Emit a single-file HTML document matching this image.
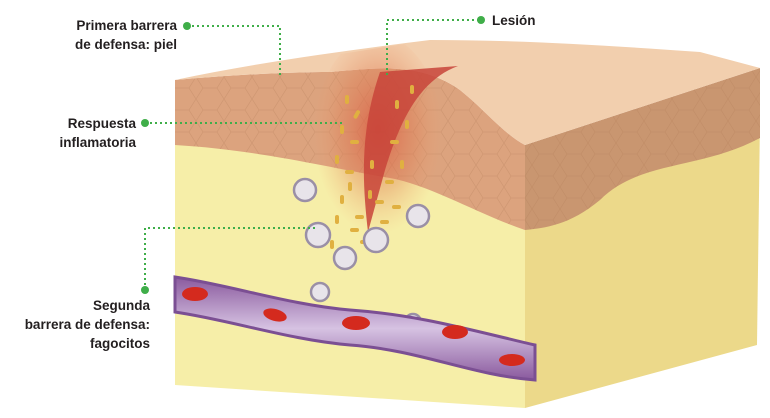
<!DOCTYPE html>
<html><head><meta charset="utf-8"><style>
html,body{margin:0;padding:0;background:#fff;}
svg{display:block}
.t{font-family:"Liberation Sans",sans-serif;font-weight:bold;font-size:13.5px;fill:#231f20;}
</style></head><body>
<svg width="770" height="418" viewBox="0 0 770 418" xmlns="http://www.w3.org/2000/svg">
<defs>
<radialGradient id="inf" cx="0.5" cy="0.45" r="0.5">
<stop offset="0" stop-color="#d9503a" stop-opacity="0.75"/>
<stop offset="0.6" stop-color="#e07a50" stop-opacity="0.35"/>
<stop offset="1" stop-color="#f0a070" stop-opacity="0"/>
</radialGradient>
<linearGradient id="ves" x1="0" y1="0" x2="0" y2="1">
<stop offset="0" stop-color="#8a5a9e"/><stop offset="0.5" stop-color="#d6c2e2"/><stop offset="1" stop-color="#8a5a9e"/>
</linearGradient>
<pattern id="cells" width="28" height="22" patternUnits="userSpaceOnUse">
<path d="M0,11 L7,0 L21,0 L28,11 L21,22 L7,22 Z" fill="none" stroke="#b07a58" stroke-width="0.7" opacity="0.3"/>
</pattern>
<clipPath id="blk"><path d="M175,80 L430,40 L760,68 L760,138 L757,345 L525,408 L175,385 Z"/></clipPath>
</defs>
<!-- right face fat -->
<polygon points="525,200 760,120 757,345 525,408" fill="#ecd98a"/>
<!-- right face skin -->
<path d="M525,145 L760,68 L760,138 C700,170 640,160 600,200 C570,225 545,228 525,230 Z" fill="#c99670"/>
<path d="M525,145 L760,68 L760,138 C700,170 640,160 600,200 C570,225 545,228 525,230 Z" fill="url(#cells)"/>
<!-- front fat -->
<polygon points="175,110 525,180 525,408 175,385" fill="#f6eea8"/>
<!-- front skin -->
<path d="M175,80 C230,75 290,72 330,72 C380,68 420,62 460,90 C485,110 505,135 525,145 L525,230 C480,215 430,185 390,178 C330,168 260,150 175,145 Z" fill="#dca37e"/>
<path d="M175,80 C230,75 290,72 330,72 C380,68 420,62 460,90 C485,110 505,135 525,145 L525,230 C480,215 430,185 390,178 C330,168 260,150 175,145 Z" fill="url(#cells)"/>
<!-- top face -->
<path d="M175,80 C230,75 290,72 330,72 C380,68 420,62 460,90 C485,110 505,135 525,145 L760,68 L700,52 C600,45 520,40 430,40 C350,50 260,62 175,80 Z" fill="#f2cfae"/>
<!-- inflammation -->
<g clip-path="url(#blk)">
<ellipse cx="378" cy="140" rx="65" ry="105" fill="url(#inf)"/>
</g>
<path d="M380,72 L458,66 C420,80 400,120 385,170 L368,232 C362,180 360,130 380,72 Z" fill="#c8443a" opacity="0.85"/>
<!-- bacteria -->
<g fill="#e0b040">
<rect x="345" y="95" width="4" height="9" rx="2"/><rect x="355" y="110" width="4" height="9" rx="2" transform="rotate(30 357 114)"/>
<rect x="340" y="125" width="4" height="9" rx="2"/><rect x="350" y="140" width="9" height="4" rx="2"/>
<rect x="335" y="155" width="4" height="9" rx="2"/><rect x="345" y="170" width="9" height="4" rx="2"/>
<rect x="395" y="100" width="4" height="9" rx="2"/><rect x="405" y="120" width="4" height="9" rx="2"/>
<rect x="390" y="140" width="9" height="4" rx="2"/><rect x="400" y="160" width="4" height="9" rx="2"/>
<rect x="385" y="180" width="9" height="4" rx="2"/><rect x="375" y="200" width="9" height="4" rx="2"/>
<rect x="340" y="195" width="4" height="9" rx="2"/><rect x="355" y="215" width="9" height="4" rx="2"/>
<rect x="380" y="220" width="9" height="4" rx="2"/><rect x="330" y="240" width="4" height="9" rx="2"/>
<rect x="360" y="240" width="9" height="4" rx="2"/><rect x="410" y="85" width="4" height="9" rx="2"/>
<rect x="348" y="182" width="4" height="9" rx="2"/><rect x="368" y="190" width="4" height="9" rx="2"/>
<rect x="392" y="205" width="9" height="4" rx="2"/><rect x="335" y="215" width="4" height="9" rx="2"/>
<rect x="370" y="160" width="4" height="9" rx="2"/><rect x="350" y="228" width="9" height="4" rx="2"/>
</g>
<!-- phagocytes -->
<g fill="#e8e4ea" stroke="#9a8fa6" stroke-width="2.5">
<circle cx="305" cy="190" r="11"/><circle cx="318" cy="235" r="12"/><circle cx="345" cy="258" r="11"/>
<circle cx="376" cy="240" r="12"/><circle cx="418" cy="216" r="11"/>
<circle cx="240" cy="300" r="9"/><circle cx="320" cy="292" r="9"/><circle cx="413" cy="322" r="8"/>
</g>
<!-- vessel -->
<path d="M175,277 C230,285 290,305 350,310 C420,315 470,330 535,345 L535,380 C470,375 420,350 350,345 C290,340 230,320 175,312 Z" fill="url(#ves)" stroke="#7b4f93" stroke-width="3"/>
<g fill="#d42a1e">
<ellipse cx="195" cy="294" rx="13" ry="7"/><ellipse cx="275" cy="315" rx="12" ry="6" transform="rotate(15 275 315)"/>
<ellipse cx="356" cy="323" rx="14" ry="7"/><ellipse cx="455" cy="332" rx="13" ry="7"/>
<ellipse cx="512" cy="360" rx="13" ry="6"/>
</g>
<!-- labels -->
<g fill="none" stroke="#3fae49" stroke-width="2" stroke-dasharray="2,3">
<polyline points="187,26 280,26 280,78"/>
<polyline points="387,75 387,20 480,20"/>
<polyline points="145,123 345,123"/>
<polyline points="145,290 145,228 315,228"/>
</g>
<g fill="#3fae49">
<circle cx="187" cy="26" r="4"/><circle cx="481" cy="20" r="4"/><circle cx="145" cy="123" r="4"/><circle cx="145" cy="290" r="4"/>
</g>
<text class="t" x="177" y="30" text-anchor="end">Primera barrera</text>
<text class="t" x="177" y="49" text-anchor="end">de defensa: piel</text>
<text class="t" x="492" y="25">Lesión</text>
<text class="t" x="136" y="128" text-anchor="end">Respuesta</text>
<text class="t" x="136" y="147" text-anchor="end">inflamatoria</text>
<text class="t" x="150" y="310" text-anchor="end">Segunda</text>
<text class="t" x="150" y="329" text-anchor="end">barrera de defensa:</text>
<text class="t" x="150" y="348" text-anchor="end">fagocitos</text>
</svg>
</body></html>
